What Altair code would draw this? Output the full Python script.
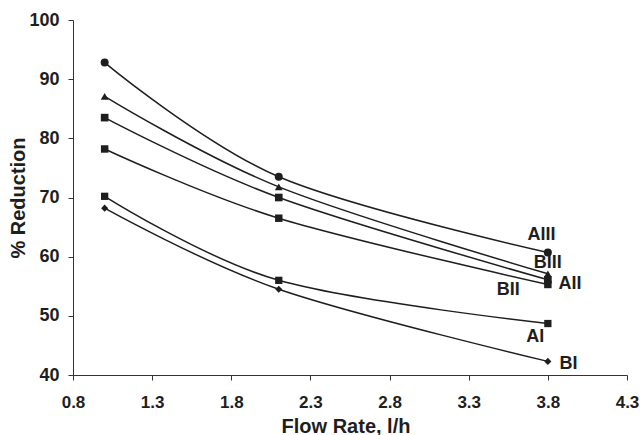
import altair as alt
import pandas as pd

flow = [1.0, 2.1, 3.8]
series_names = ["AIII", "BIII", "AII", "BII", "AI", "BI"]
values = {
    "AIII": [92.8, 73.5, 60.7],
    "BIII": [87.1, 71.8, 57.1],
    "AII": [83.5, 70.0, 56.1],
    "BII": [78.2, 66.5, 55.3],
    "AI": [70.2, 56.0, 48.7],
    "BI": [68.2, 54.5, 42.3],
}
shapes = ["circle", "triangle-up", "square", "square", "square", "diamond"]
sizes = [64, 50, 42, 58, 38, 34]

label_text = ["AIII", "BIII", "AII", "BII", "AI", "BI"]
label_x = [3.76, 3.80, 3.94, 3.55, 3.72, 3.93]
label_y = [63.6, 58.9, 55.4, 54.3, 46.5, 41.8]

x_ticks = [0.8, 1.3, 1.8, 2.3, 2.8, 3.3, 3.8, 4.3]
y_ticks = [40, 50, 60, 70, 80, 90, 100]

rows = []
for s in series_names:
    for x, y in zip(flow, values[s]):
        rows.append({"series": s, "flow": x, "reduction": y})
df = pd.DataFrame(rows)
labels_df = pd.DataFrame({"text": label_text, "x": label_x, "y": label_y})

FONT = "Liberation Sans"
INK = "#1e1e1e"

xscale = alt.Scale(domain=[0.8, 4.3], nice=False, zero=False)
yscale = alt.Scale(domain=[40, 100], nice=False, zero=False)

xaxis = alt.Axis(
    values=x_ticks, format=".1f", title="Flow Rate, l/h", grid=False,
    labelFont=FONT, labelFontSize=17, labelFontWeight="bold", labelColor=INK,
    titleFont=FONT, titleFontSize=20, titleFontWeight="bold", titleColor=INK,
    titleX=272.5, titleY=57, titleBaseline="alphabetic", titleAlign="center",
    domainColor="#333333", tickColor="#333333", tickSize=5, labelPadding=14,
    labelFlush=False, labelOverlap=False,
)
yaxis = alt.Axis(
    values=y_ticks, title="% Reduction", grid=False,
    labelFont=FONT, labelFontSize=18, labelFontWeight="bold", labelColor=INK,
    titleFont=FONT, titleFontSize=20, titleFontWeight="bold", titleColor=INK,
    titleX=-55, titleY=177.5, titleBaseline="middle", titleAlign="center", titleAngle=270,
    domainColor="#333333", tickColor="#333333", tickSize=5, labelPadding=9,
    labelFlush=False, labelOverlap=False,
)

base = alt.Chart(df)

lines = base.mark_line(interpolate="cardinal", color=INK, strokeWidth=1.5).encode(
    x=alt.X("flow:Q", scale=xscale, axis=xaxis),
    y=alt.Y("reduction:Q", scale=yscale, axis=yaxis),
    detail="series:N",
)

points = base.mark_point(filled=True, color=INK, opacity=1).encode(
    x=alt.X("flow:Q", scale=xscale),
    y=alt.Y("reduction:Q", scale=yscale),
    shape=alt.Shape("series:N", scale=alt.Scale(domain=series_names, range=shapes), legend=None),
    size=alt.Size("series:N", scale=alt.Scale(domain=series_names, range=sizes), legend=None),
)

texts = alt.Chart(labels_df).mark_text(
    font=FONT, fontSize=18, fontWeight="bold", color=INK, align="center", baseline="middle"
).encode(
    x=alt.X("x:Q", scale=xscale),
    y=alt.Y("y:Q", scale=yscale),
    text="text:N",
)

chart = alt.layer(lines, points, texts).properties(
    width=554, height=355,
    autosize=alt.AutoSizeParams(type="none"),
    padding={"left": 73, "top": 20, "right": 13, "bottom": 60},
    background="white",
).configure_view(stroke=None)

chart.save("out.html", embed_options={"renderer": "svg", "actions": False})
